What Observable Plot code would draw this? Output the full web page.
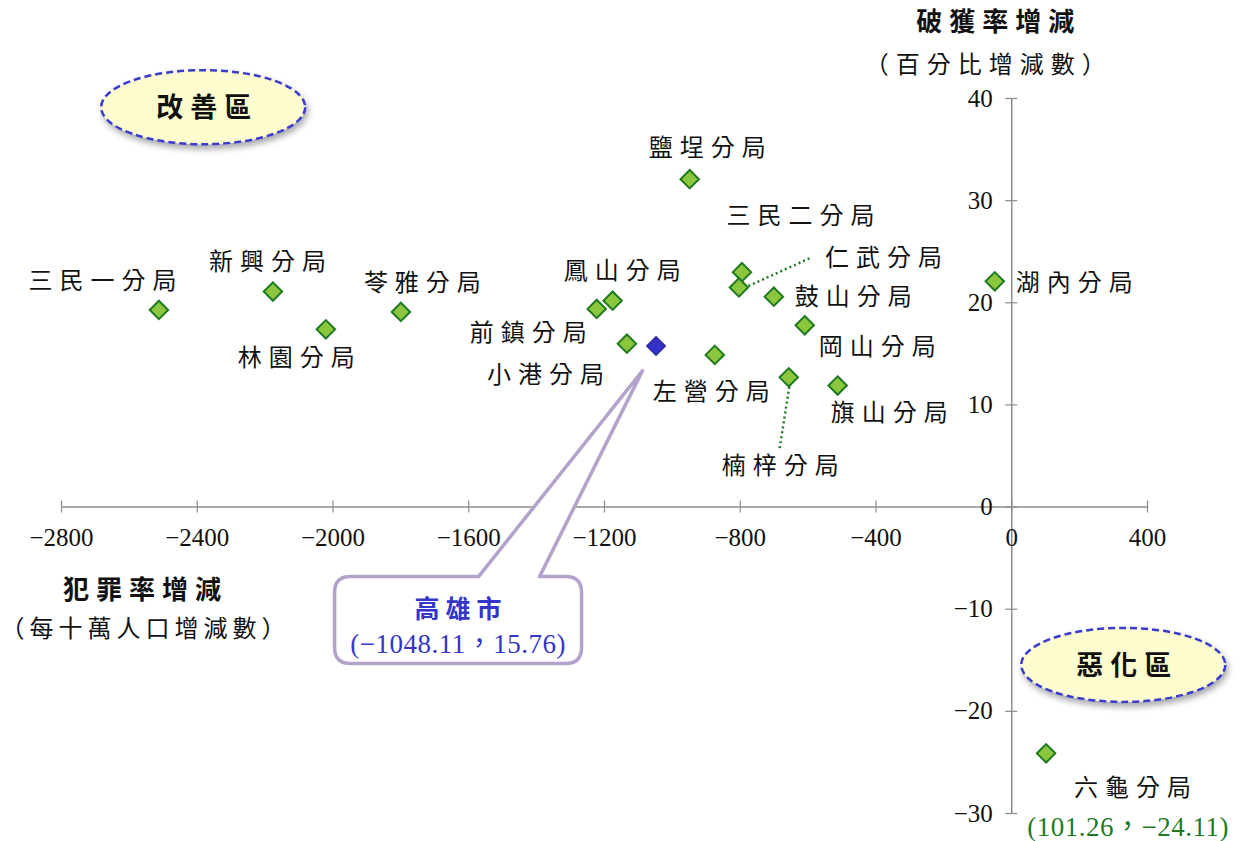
<!DOCTYPE html>
<html><head><meta charset="utf-8">
<script src="https://cdn.jsdelivr.net/npm/d3@7"></script>
<script src="https://cdn.jsdelivr.net/npm/@observablehq/plot@0.6"></script>
<style>body{margin:0;background:#fff}</style>
</head><body><div id="chart"></div>
<script>
// ---- data ----
const names = ["三民一分局","新興分局","林園分局","苓雅分局","鳳山分局","前鎮分局","小港分局","鹽埕分局","左營分局","三民二分局","仁武分局","鼓山分局","岡山分局","楠梓分局","旗山分局","湖內分局","六龜分局"];
const crimeChange = [-2513,-2177,-2021,-1800,-1176,-1223,-1134,-949,-875,-795,-804,-701,-610,-657,-513,-50,101.26];
const clearanceChange = [19.3,21.1,17.4,19.1,20.2,19.4,16.0,32.1,14.9,23.0,21.5,20.6,17.8,12.7,11.9,22.1,-24.11];
const cityName = "高雄市";
const cityCrime = -1048.11;
const cityClearance = 15.76;
const xTicks = [-2800,-2400,-2000,-1600,-1200,-800,-400,0,400];
const yTicks = [-30,-20,-10,0,10,20,30,40];
const zoneNames = ["改善區","惡化區"];
const zoneX = [-2381, 330];
const zoneY = [39.1, -15.5];
const xTitle = ["犯罪率增減","（每十萬人口增減數）"];
const yTitle = ["破獲率增減","（百分比增減數）"];
const lastName = "六龜分局";

// ---- layout (pixel offsets of labels) ----
const labelOffset = {
  "三民一分局":[-53,-29],"新興分局":[-2,-29],"林園分局":[-26,29],"苓雅分局":[25,-29],
  "鳳山分局":[13,-29],"前鎮分局":[-65,24],"小港分局":[-78,32],"鹽埕分局":[21,-31],
  "左營分局":[0,37],"三民二分局":[62,-56],"仁武分局":[148,-29],"鼓山分局":[83,1],
  "岡山分局":[76,22],"楠梓分局":[-5,89],"旗山分局":[55,28],"湖內分局":[83,2],"六龜分局":[90,35]
};
const leaders = {"仁武分局":[[10,-1],[72,-29]], "楠梓分局":[[1,10],[-9,74]]};

const rows = names.map((n,i)=>({name:n, x:crimeChange[i], y:clearanceChange[i]}));
const city = [{name:cityName, x:cityCrime, y:cityClearance}];
const fmt = d => d < 0 ? "−" + Math.abs(d) : String(d);
const FONT = "'Liberation Serif','Noto Sans CJK TC',serif";
const GREEN = "#1f7a1f";
const BLUE = "#3535c8";

const decor = (index, scales) => {
  const x = scales.x, y = scales.y;
  const g = d3.create("svg:g");
  const defs = g.append("defs");
  const f = defs.append("filter").attr("id","shd").attr("x","-20%").attr("y","-20%").attr("width","150%").attr("height","160%");
  f.append("feDropShadow").attr("dx",2).attr("dy",4).attr("stdDeviation",3).attr("flood-color","#000").attr("flood-opacity",0.35);
  for (const r of rows) {
    const L = leaders[r.name]; if (!L) continue;
    const px = x(r.x), py = y(r.y);
    g.append("line").attr("x1",px+L[0][0]).attr("y1",py+L[0][1]).attr("x2",px+L[1][0]).attr("y2",py+L[1][1])
      .attr("stroke",GREEN).attr("stroke-width",2.5).attr("stroke-dasharray","2,3");
  }
  zoneNames.forEach((z,i)=>{
    const cx = x(zoneX[i]), cy = y(zoneY[i]);
    g.append("ellipse").attr("cx",cx).attr("cy",cy).attr("rx",102).attr("ry",37)
      .attr("fill","#fdfdcf").attr("stroke","#3a3acc").attr("stroke-width",2.5)
      .attr("stroke-dasharray","7,4").attr("filter","url(#shd)");
    g.append("text").attr("x",cx+4).attr("y",cy).attr("dy","0.36em").attr("text-anchor","middle")
      .attr("font-family",FONT).attr("font-size",27).attr("font-weight","bold")
      .attr("letter-spacing","7px").attr("fill","#111").text(z);
  });
  const px = x(cityCrime), py = y(cityClearance);
  const L = px-321, R = px-74, T = py+231, B = py+318, rr = 16;
  const bl = px-177, br = px-116, tx = px-13, ty = py+25;
  const p = `M${L+rr},${T} L${bl},${T} L${tx},${ty} L${br},${T} L${R-rr},${T} Q${R},${T} ${R},${T+rr} L${R},${B-rr} Q${R},${B} ${R-rr},${B} L${L+rr},${B} Q${L},${B} ${L},${B-rr} L${L},${T+rr} Q${L},${T} ${L+rr},${T} Z`;
  g.append("path").attr("d",p).attr("fill","#fff").attr("stroke","#b3a3cc").attr("stroke-width",3.5).attr("stroke-linejoin","round");
  g.append("text").attr("x",(L+R)/2+3).attr("y",py+263).attr("dy","0.36em").attr("text-anchor","middle")
    .attr("font-family",FONT).attr("font-size",25).attr("font-weight",600).attr("letter-spacing","6px")
    .attr("fill",BLUE).text(cityName);
  g.append("text").attr("x",(L+R)/2).attr("y",py+298).attr("dy","0.36em").attr("text-anchor","middle")
    .attr("font-family",FONT).attr("font-size",27).attr("letter-spacing","0.5px").attr("fill",BLUE)
    .text(`(${fmt(cityCrime)}，${cityClearance})`);
  return g.node();
};

const labelMarks = rows.map(r => Plot.text([r], {
  x:"x", y:"y", text:"name", dx: labelOffset[r.name][0], dy: labelOffset[r.name][1],
  fontSize: 24, fill:"#111", className:"cjk"
}));
const last = rows.find(r=>r.name===lastName);

const chart = Plot.plot({
  width: 1246, height: 841,
  marginLeft: 61, marginRight: 99, marginTop: 98, marginBottom: 28,
  x: {domain:[-2800,400], axis:null},
  y: {domain:[-30,40], axis:null},
  style: {fontFamily: FONT, background:"#fff", overflow:"visible"},
  marks: [
    Plot.ruleY([0], {x1: xTicks[0], x2: xTicks[xTicks.length-1], stroke:"#8c8c8c", strokeWidth:1.5}),
    Plot.ruleX([0], {y1: yTicks[0], y2: yTicks[yTicks.length-1], stroke:"#8c8c8c", strokeWidth:1.5}),
    Plot.ruleX(xTicks, {x: d=>d, y1: 0, y2: 0, insetTop:-6, insetBottom:-6, stroke:"#8c8c8c", strokeWidth:1.2}),
    Plot.ruleY(yTicks, {y: d=>d, x1: 0, x2: 0, insetLeft:-6, insetRight:-6, stroke:"#8c8c8c", strokeWidth:1.2}),
    Plot.text(xTicks, {x: d=>d, y: 0, dy: 31, text: fmt, fontSize: 25, fill:"#111"}),
    Plot.text(yTicks, {x: 0, y: d=>d, dx: -19, text: fmt, textAnchor:"end", fontSize: 25, fill:"#111"}),
    Plot.text([yTitle[0]], {x: 0, y: yTicks[yTicks.length-1], dx: -13, dy: -76, text: d=>d, fontSize: 26, fontWeight:"bold", fill:"#111", className:"cjk"}),
    Plot.text([yTitle[1]], {x: 0, y: yTicks[yTicks.length-1], dx: -23, dy: -33, text: d=>d, fontSize: 24, fill:"#111", className:"cjk"}),
    Plot.text([xTitle[0]], {x: xTicks[0], y: 0, dx: 84, dy: 84, text: d=>d, fontSize: 26, fontWeight:"bold", fill:"#111", className:"cjk"}),
    Plot.text([xTitle[1]], {x: xTicks[0], y: 0, dx: 84, dy: 122, text: d=>d, fontSize: 24, fill:"#111", className:"cjk2"}),
    decor,
    Plot.dot(rows, {x:"x", y:"y", symbol:"diamond2", r: 8.3, fill:"#8cc63f", stroke: GREEN, strokeWidth: 2}),
    Plot.dot(city, {x:"x", y:"y", symbol:"diamond2", r: 8.3, fill:"#3333cc", stroke:"#2a2a99", strokeWidth: 1.5}),
    ...labelMarks,
    Plot.text([last], {x:"x", y:"y", dx: 82, dy: 74, text: d => `(${d.x}，${fmt(d.y)})`, fontSize: 27, fill: GREEN, className:"num"})
  ]
});
d3.select(chart).selectAll("g.cjk text").attr("letter-spacing","7px");
d3.select(chart).selectAll("g.cjk2 text").attr("letter-spacing","5px");
d3.select(chart).selectAll("g.num text").attr("letter-spacing","0.5px");
document.getElementById("chart").appendChild(chart);
</script>
</body></html>
